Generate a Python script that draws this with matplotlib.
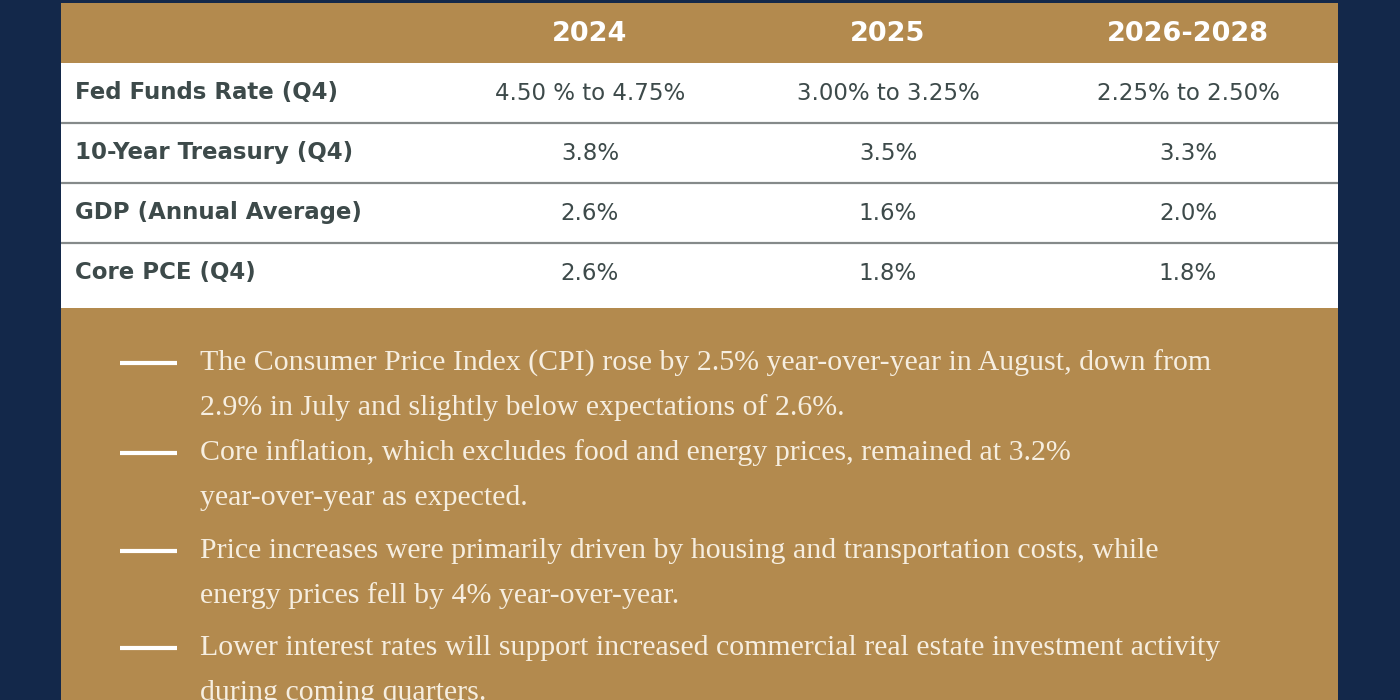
import matplotlib.pyplot as plt
from matplotlib.patches import Rectangle

# Colours
navy = "#13284a"
gold = "#b38a4e"
slate = "#3d4a4a"
cream = "#f6eee0"

# Table data
columns = ['2024', '2025', '2026-2028']
rows = ['Fed Funds Rate (Q4)', '10-Year Treasury (Q4)',
        'GDP (Annual Average)', 'Core PCE (Q4)']
values_2024 = ['4.50 % to 4.75%', '3.8%', '2.6%', '2.6%']
values_2025 = ['3.00% to 3.25%', '3.5%', '1.6%', '1.8%']
values_2026_2028 = ['2.25% to 2.50%', '3.3%', '2.0%', '1.8%']

# Bullet notes (already wrapped as in the picture)
notes = [
    ["The Consumer Price Index (CPI) rose by 2.5% year-over-year in August, down from",
     "2.9% in July and slightly below expectations of 2.6%."],
    ["Core inflation, which excludes food and energy prices, remained at 3.2%",
     "year-over-year as expected."],
    ["Price increases were primarily driven by housing and transportation costs, while",
     "energy prices fell by 4% year-over-year."],
    ["Lower interest rates will support increased commercial real estate investment activity",
     "during coming quarters."],
]

fig = plt.figure(figsize=(14, 7), dpi=100, facecolor=navy)
ax = fig.add_axes([0, 0, 1, 1])
ax.set_xlim(0, 1400)
ax.set_ylim(700, 0)
ax.axis('off')

# Panels: gold background, white table body
left, right = 61, 1338
ax.add_patch(Rectangle((left, 3), right - left, 700, color=gold, lw=0))
ax.add_patch(Rectangle((left, 63), right - left, 245, color="white", lw=0))

col_x = [590, 888, 1188]
header_y = 34
row_h = 60
row_y0 = 93

sans = "DejaVu Sans"
for x, c in zip(col_x, columns):
    ax.text(x, header_y, c, color="white", fontsize=19.5, fontweight="bold",
            family=sans, ha="center", va="center")

table_cols = [values_2024, values_2025, values_2026_2028]
for i, r in enumerate(rows):
    y = row_y0 + i * row_h
    ax.text(75, y, r, color=slate, fontsize=16.5, fontweight="bold",
            family=sans, ha="left", va="center")
    for x, vals in zip(col_x, table_cols):
        ax.text(x, y, vals[i], color=slate, fontsize=16.5, family=sans,
                ha="center", va="center")
    if i < len(rows) - 1:
        ax.plot([left, right], [y + 30, y + 30], color="#858a8a", lw=1.6,
                solid_capstyle="butt")

# Bullets with dash markers
line_h = 45
bullet_y = [363, 453, 551, 648]
for y, note in zip(bullet_y, notes):
    ax.plot([120, 177], [y, y], color="white", lw=3, solid_capstyle="butt")
    for j, line in enumerate(note):
        ax.text(200, y + j * line_h, line, color=cream, fontsize=21.5,
                family="Liberation Serif", ha="left", va="center")

plt.savefig("out.png", dpi=100, facecolor=navy)
